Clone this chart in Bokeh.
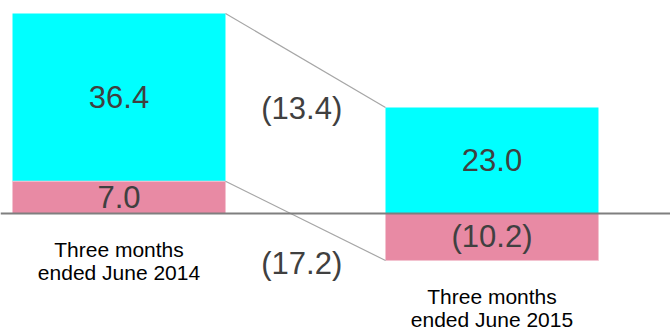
from bokeh.plotting import figure
from bokeh.models import Range1d, Span
from bokeh.core.properties import value
from bokeh.embed import file_html
from bokeh.resources import INLINE

categories = ["Three months\nended June 2014", "Three months\nended June 2015"]
series_a = [36.4, 23.0]   # cyan segment
series_b = [7.0, -10.2]   # pink segment
change_a = "(13.4)"
change_b = "(17.2)"

def fmt(v):
    return f"({abs(v):.1f})" if v < 0 else f"{v:.1f}"

xs = [0, 1]
W = 0.571

pink_bottom = [min(0, b) for b in series_b]
pink_top = [max(0, b) for b in series_b]
cyan_bottom = pink_top
cyan_top = [pt + a for pt, a in zip(pink_top, series_a)]

p = figure(width=670, height=331, output_backend="svg", toolbar_location=None,
           x_range=Range1d(-0.3177, 1.4786), y_range=Range1d(-25.61, 46.22),
           min_border=0, outline_line_color=None)
p.xaxis.visible = False
p.yaxis.visible = False
p.xgrid.visible = False
p.ygrid.visible = False
p.background_fill_color = "white"
p.border_fill_color = "white"

p.vbar(x=xs, width=W, bottom=cyan_bottom, top=cyan_top, fill_color="#00FFFF", line_color=None)
p.vbar(x=xs, width=W, bottom=pink_bottom, top=pink_top, fill_color="#E88AA4",
       line_color="#F3C3D0", line_width=1)

p.add_layout(Span(location=0, dimension="width", line_color="#7F7F7F", line_width=1.8))

p.segment(x0=[xs[0] + W / 2, xs[0] + W / 2], y0=[cyan_top[0], cyan_bottom[0]],
          x1=[xs[1] - W / 2, xs[1] - W / 2], y1=[cyan_top[1], pink_bottom[1]],
          line_color="#A6A6A6", line_width=1.2)

lx = xs + xs
ly = [(cb + ct) / 2 for cb, ct in zip(cyan_bottom, cyan_top)] + \
     [(pb + pt) / 2 for pb, pt in zip(pink_bottom, pink_top)]
lt = [fmt(v) for v in series_a] + [fmt(v) for v in series_b]
p.text(x=lx, y=ly, text=lt, text_align="center", text_baseline="middle",
       text_font=value("Liberation Sans"), text_font_size="31px", text_color="#404040")

mid = (xs[0] + xs[1]) / 2
p.text(x=[mid - 0.01, mid - 0.01], y=[cyan_top[1], pink_bottom[1]], text=[change_a, change_b],
       y_offset=[1, 3],
       text_align="center", text_baseline="middle",
       text_font=value("Liberation Sans"), text_font_size="31px", text_color="#404040")

p.text(x=xs, y=[min(0, pb) for pb in pink_bottom], text=categories, y_offset=25,
       text_align="center", text_baseline="top", text_line_height=1.0,
       text_font=value("Liberation Sans"), text_font_size="21px", text_color="#000000")

open("out.html", "w").write(file_html(p, INLINE))
